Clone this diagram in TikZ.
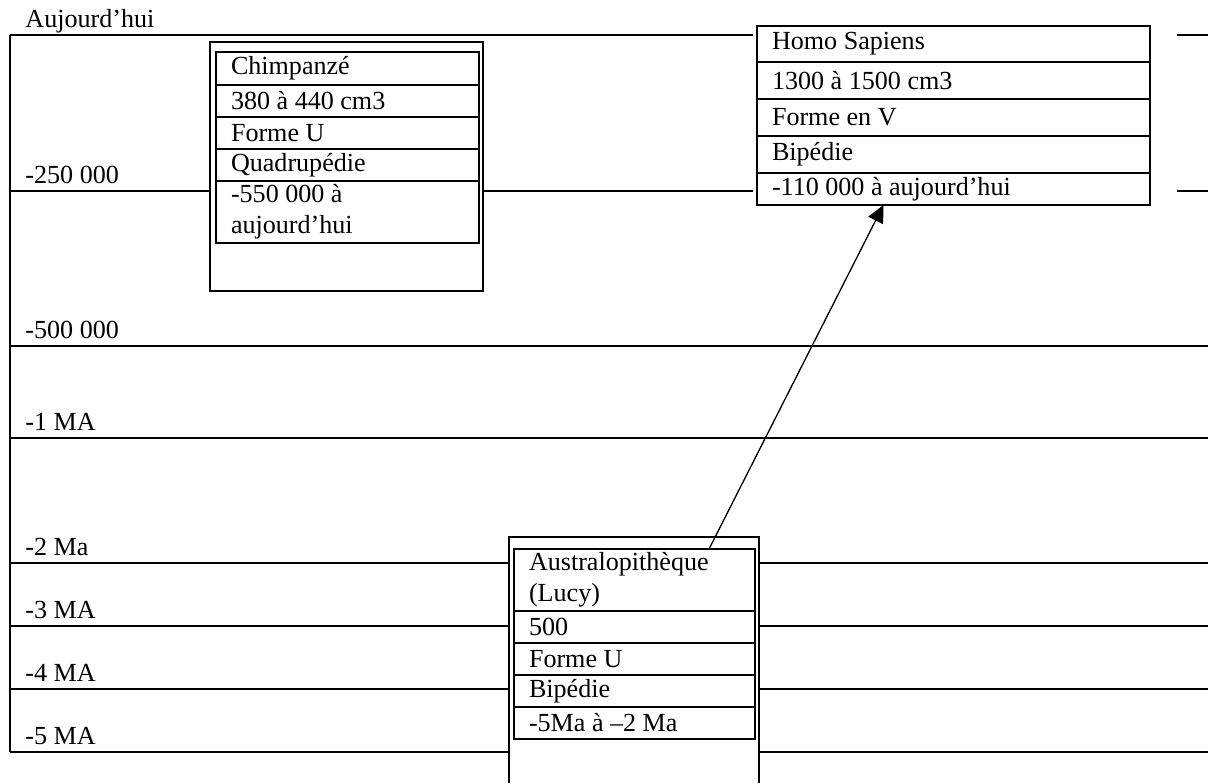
\documentclass[tikz,border=0pt]{standalone}
\usepackage{fontspec}
\setmainfont{Liberation Serif}
\usetikzlibrary{positioning,arrows.meta,calc}
\tikzset{
  cell/.style ={rectangle, draw=black, fill=white, line width=0.7pt, outer sep=0pt,
                inner xsep=6.9pt, inner ysep=1pt, align=left,
                font=\fontsize{12}{14.3}\selectfont,
                execute at begin node={\spaceskip=0pt\xspaceskip=0pt}},
  hcell/.style={cell, text width=167pt, minimum height=17pt},
  ccell/.style={cell, text width=107.2pt, minimum height=14.7pt},
  acell/.style={cell, text width=97.1pt, minimum height=14.7pt},
  frame/.style={draw=black, fill=white, line width=0.7pt},
  tline/.style={line width=0.6pt},
  tlab/.style ={anchor=base west, inner sep=0pt, font=\fontsize{12}{14.3}\selectfont},
  arr/.style  ={-{Triangle[length=8pt, width=7.5pt]}, line width=0.6pt},
}

\begin{document}
\begin{tikzpicture}[x=0.46pt, y=-0.46pt]
  \useasboundingbox (0,0) rectangle (1208,783);
  % time axis
  \foreach \y/\lab [count=\i] in {35/Aujourd’hui, 191/-250 000, 346/-500 000, 438/-1 MA,
                                   563/-2 Ma, 626/-3 MA, 689/-4 MA, 752/-5 MA} {
    \draw[tline] (10,\y) -- (1208,\y);
    \node[tlab] (lab\i) at (25,\y-7.5) {\lab};
  }
  \draw[tline] (10,35) -- (10,752);
  \fill[white] (753,30) rectangle (1177,196);
  % frames
  \draw[frame] (210,42) rectangle (483,291);
  \filldraw[frame] (509,783) -- (509,537) -- (759,537) -- (759,783);
  % Homo Sapiens
  \node[hcell, anchor=north west, minimum height=16.6pt] (h1) at (757,26) {Homo Sapiens};
  \node[hcell, below=0pt of h1] (h2) {1300 à 1500 cm3};
  \node[hcell, below=0pt of h2] (h3) {Forme en V};
  \node[hcell, below=0pt of h3] (h4) {Bipédie};
  \node[hcell, below=0pt of h4, minimum height=14.7pt] (h5) {-110 000 à aujourd’hui};
  % Chimpanze
  \node[ccell, anchor=north west, minimum height=15.2pt] (c1) at (216,52) {Chimpanzé};
  \node[ccell, below=0pt of c1] (c2) {380 à 440 cm3};
  \node[ccell, below=0pt of c2] (c3) {Forme U};
  \node[ccell, below=0pt of c3] (c4) {Quadrupédie};
  \node[ccell, below=0pt of c4, minimum height=28.5pt] (c5) {-550 000 à\\aujourd’hui};
  % Australopitheque
  \node[acell, anchor=north west, minimum height=28.5pt] (a1) at (514,549) {Australopithèque\\(Lucy)};
  \node[acell, below=0pt of a1] (a2) {500};
  \node[acell, below=0pt of a2] (a3) {Forme U};
  \node[acell, below=0pt of a3] (a4) {Bipédie};
  \node[acell, below=0pt of a4] (a5) {-5Ma à –2 Ma};
  \draw[arr] ($(a1.north)+(74.5,0)$) -- ($(h5.south)+(-70,0)$);
\end{tikzpicture}
\end{document}
